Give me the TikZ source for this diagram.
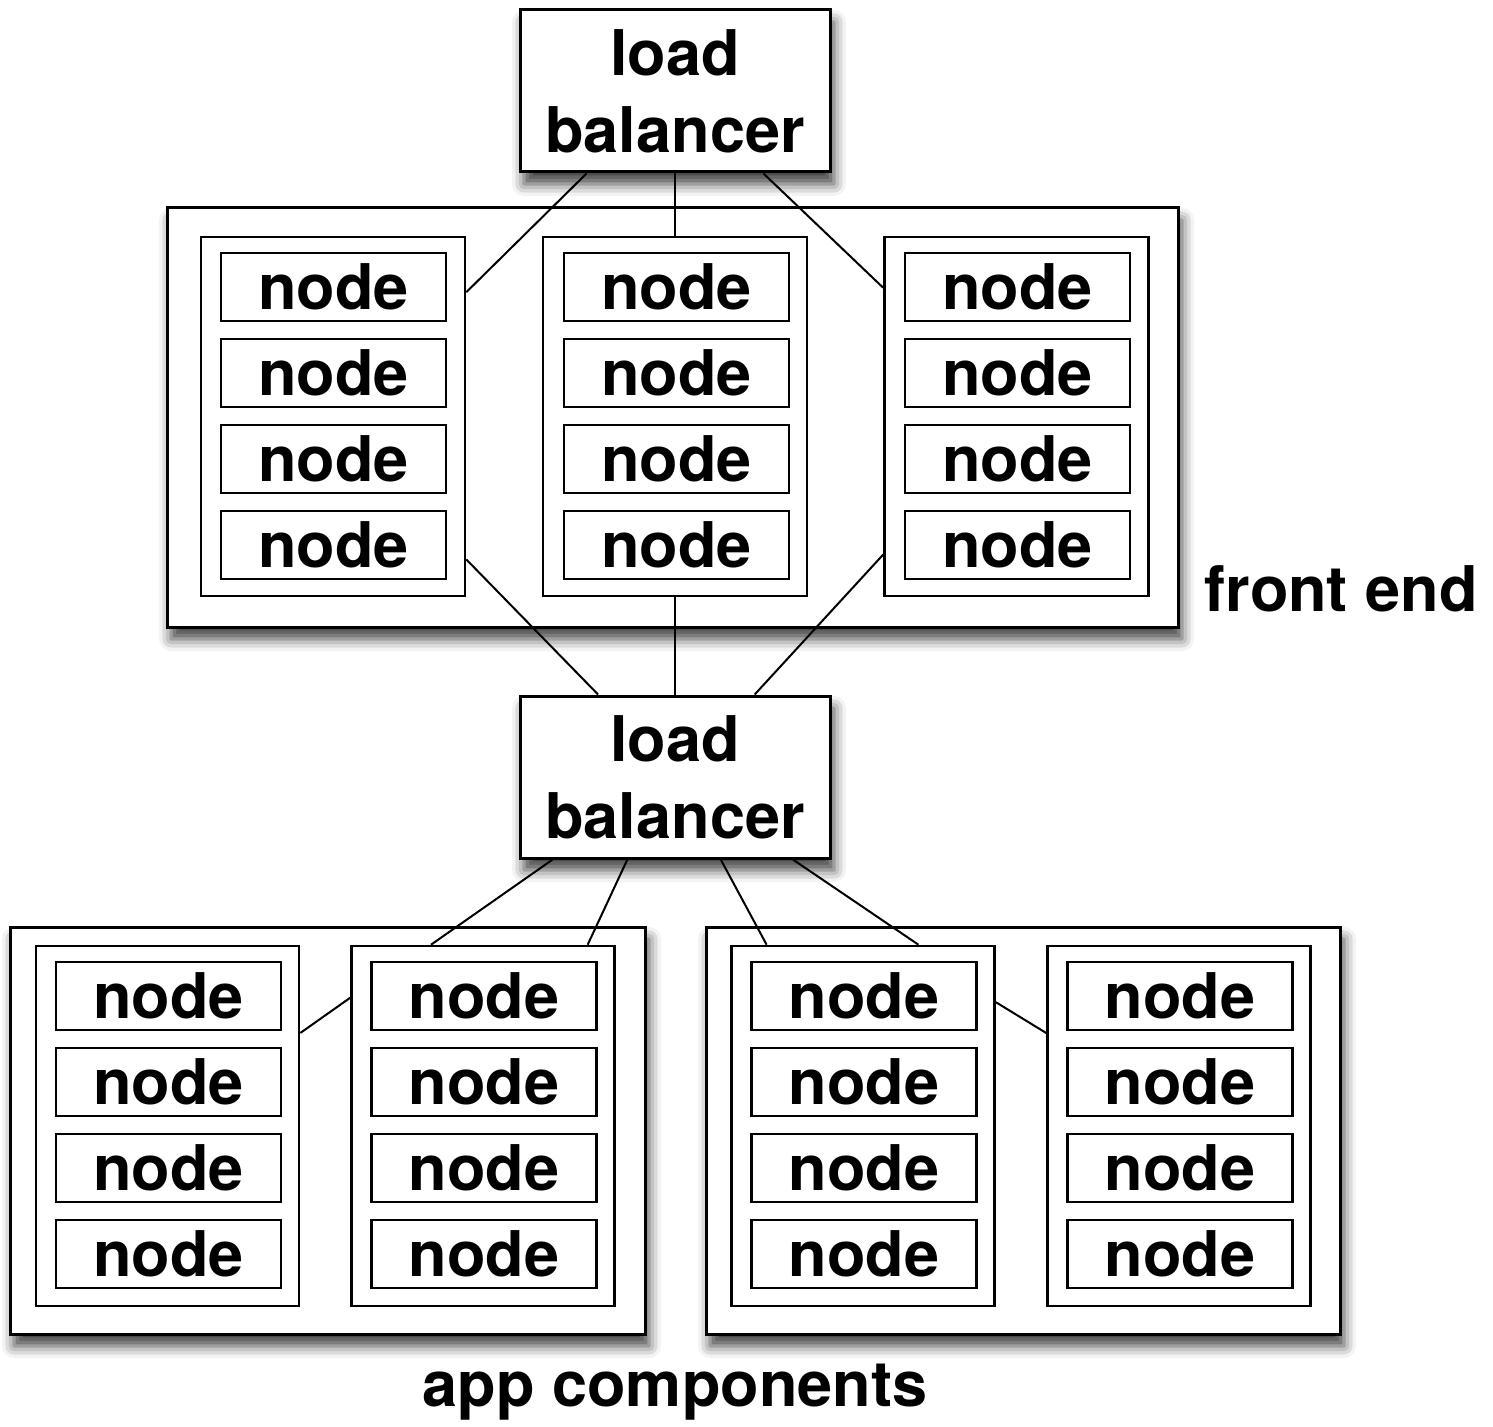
\documentclass[tikz,border=0pt]{standalone}
\usepackage{fontspec}
\setmainfont{TeX Gyre Heros}
\usetikzlibrary{shadows.blur}
\newcommand\bigf{\fontsize{31.5}{38.5}\selectfont\bfseries}
\begin{document}
\begin{tikzpicture}[x=0.5pt,y=-0.5pt,
  shad/.style={blur shadow={shadow xshift=2pt, shadow yshift=-6pt, shadow blur radius=6pt, shadow opacity=75}},
  outer/.style={draw, fill=white, line width=1.5pt, inner sep=0pt, shad},
  col/.style={draw, fill=white, line width=1.3pt, inner sep=0pt, minimum width=132pt, minimum height=179.5pt},
  nbox/.style={draw, fill=white, line width=1.3pt, inner sep=0pt, minimum width=112.5pt, minimum height=34pt, font=\bigf},
  lb/.style={outer, minimum width=155pt, minimum height=81pt, align=center, font=\bigf},
  conn/.style={line width=1pt},
  lbl/.style={font=\bigf, inner sep=0pt}]
\useasboundingbox (0,0) rectangle (1493,1427);
% outer containers
\node[outer, minimum width=505.5pt, minimum height=209.5pt] (fe) at (672.5,417.5) {};
\node[outer, minimum width=317.5pt, minimum height=203.5pt] (acl) at (327.5,1130.5) {};
\node[outer, minimum width=317pt, minimum height=203.5pt] (acr) at (1023,1130.5) {};
% front-end columns
\node[col] (c1) at (333,416.5) {};
\node[col] (c2) at (675,416.5) {};
\node[col] (c3) at (1016.5,416.5) {};
\foreach \r/\y in {1/287,2/373,3/459,4/545}{
  \node[nbox] (c1n\r) at (333.5,\y) {node};
  \node[nbox] (c2n\r) at (676.5,\y) {node};
  \node[nbox] (c3n\r) at (1017.5,\y) {node};
}
% app component columns
\node[col, minimum width=131.5pt, minimum height=180pt] (l1) at (167.5,1126) {};
\node[col, minimum width=131.5pt, minimum height=180pt] (l2) at (483,1126) {};
\node[col, minimum width=131.5pt, minimum height=180pt] (r1) at (863,1126) {};
\node[col, minimum width=131.5pt, minimum height=180pt] (r2) at (1179,1126) {};
\foreach \r/\y in {1/996,2/1082,3/1168,4/1254}{
  \node[nbox] (l1n\r) at (168.5,\y) {node};
  \node[nbox] (l2n\r) at (484,\y) {node};
  \node[nbox] (r1n\r) at (864,\y) {node};
  \node[nbox] (r2n\r) at (1180,\y) {node};
}
% load balancers
\node[lb] (lb1) at (675,91) {load\\balancer};
\node[lb] (lb2) at (675,777) {load\\balancer};
% connectors
\draw[conn] (lb1.223) -- (c1.43.8);
\draw[conn] (lb1.south) -- (c2.north);
\draw[conn] (lb1.317) -- (c3.136.1);
\draw[conn] (c1.313.4) -- (lb2.133.6);
\draw[conn] (c2.south) -- (lb2.north);
\draw[conn] (c3.226.7) -- (lb2.46.1);
\draw[conn] (lb2.214.2) -- (l2.106.4);
\draw[conn] (lb2.240.9) -- (l2.60.9);
\draw[conn] (lb2.299.1) -- (r1.118.3);
\draw[conn] (lb2.325.5) -- (r1.73);
\draw[conn] (l1.35) -- (l2.136.3);
\draw[conn] (r1.43.7) -- (r2.145.1);
% labels
\node[lbl] (tfe) at (1341,589) {front end};
\node[lbl] (tac) at (675,1392) {app components};
\end{tikzpicture}
\end{document}
